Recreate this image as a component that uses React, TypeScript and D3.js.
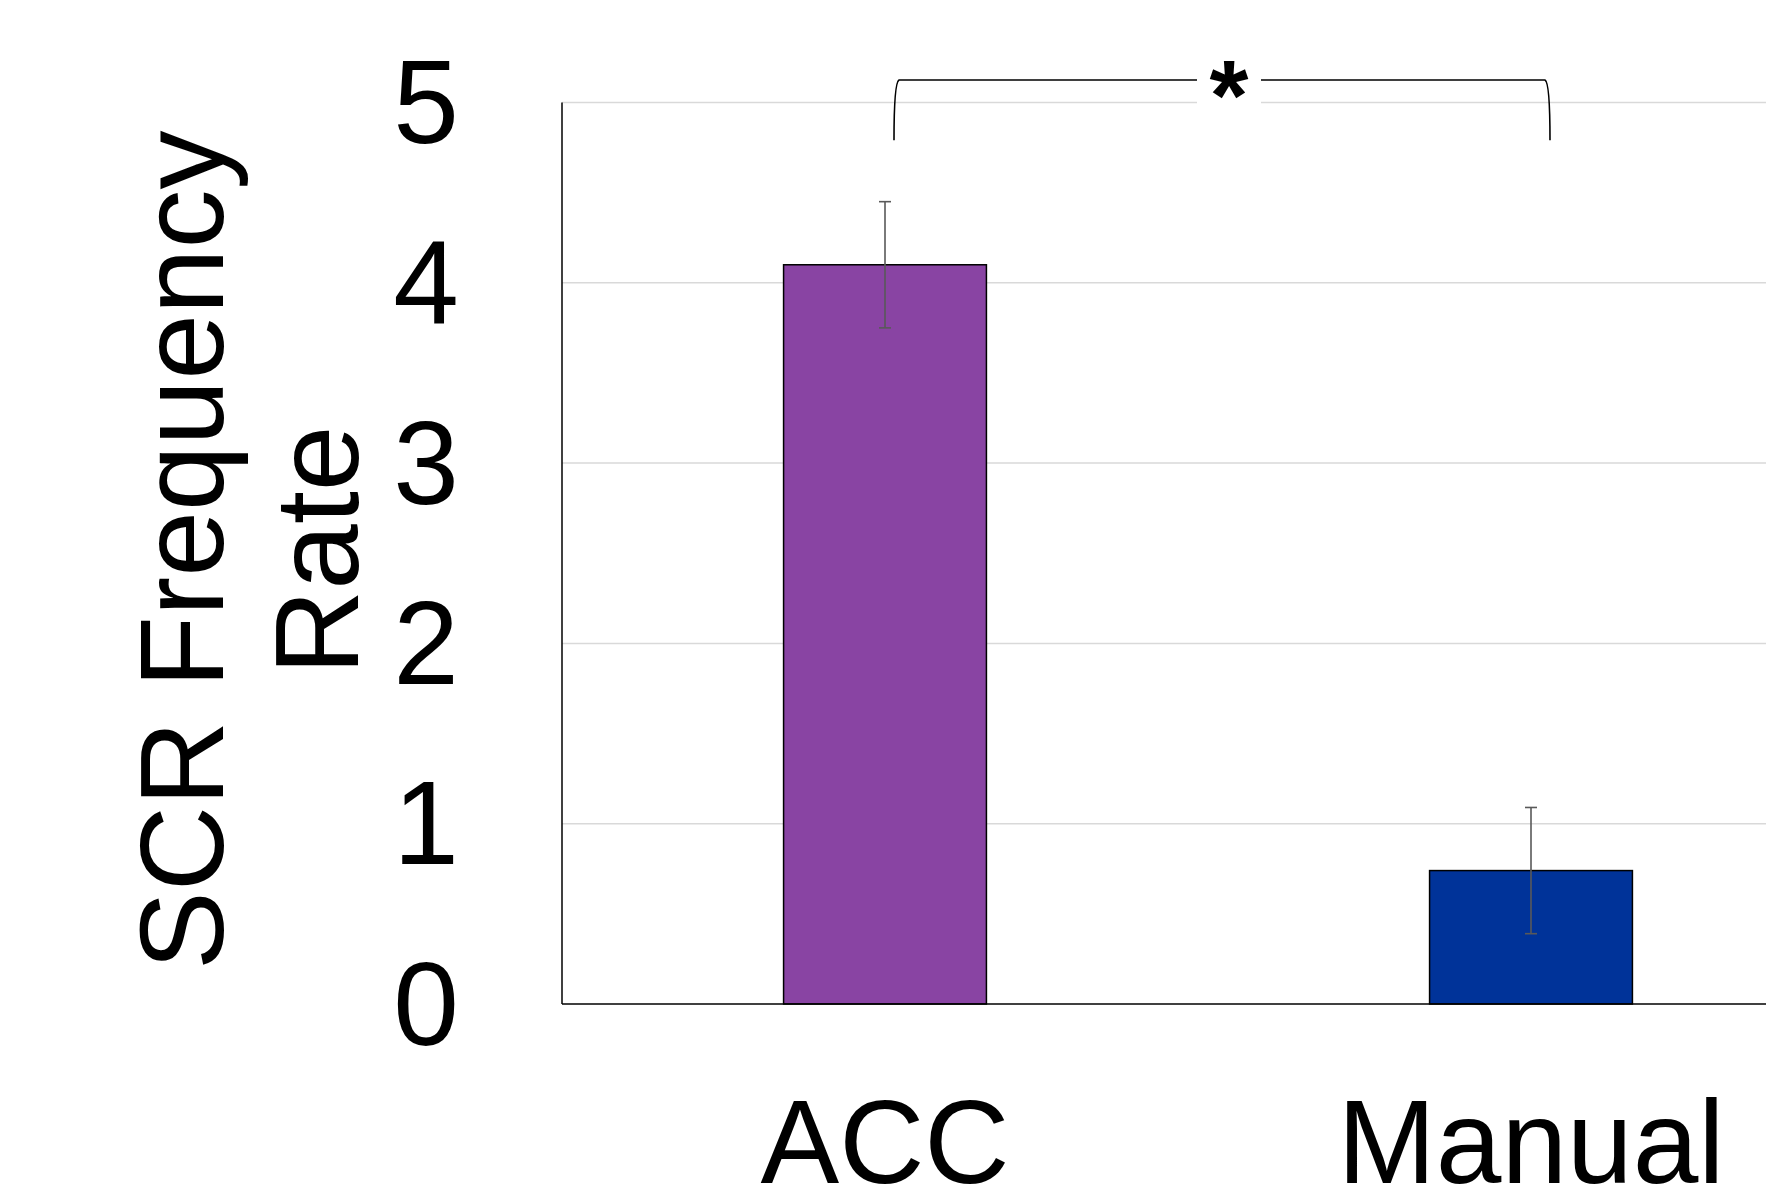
import * as d3 from 'd3';
import { useEffect, useRef } from 'react';

// chart values
const categories = ['ACC', 'Manual'];
const means = [4.1, 0.74];
const errors = [0.35, 0.35];
const barColors = ['#8944A3', '#003399'];
const yTicks = [0, 1, 2, 3, 4, 5];
const yTitleLines = ['SCR Frequency', 'Rate'];
// significance bracket, in data units
const bracketTop = 5.125;
const bracketBottom = 4.79;
const bracketLabel = '*';

export default function App() {
  const svgRef = useRef<SVGSVGElement>(null);

  useEffect(() => {
    d3.select(svgRef.current).selectAll('*').remove();

    const width = 1766;
    const height = 1186;
    const marginLeft = 562;
    const marginTop = 102.5;
    const plotBottom = 1004;
    const fontSize = 118;
    const font = '"Liberation Sans", Arial, sans-serif';

    const x = d3.scaleBand(categories, [marginLeft, marginLeft + 2 * 646])
      .paddingInner(0.686)
      .paddingOuter(0.343);
    const y = d3.scaleLinear([0, 5], [plotBottom, marginTop]);

    const svg = d3.select(svgRef.current)
      .attr('viewBox', [0, 0, width, height])
      .attr('width', width)
      .attr('height', height)
      .style('font-family', font);

    svg.append('rect').attr('width', width).attr('height', height).attr('fill', '#fff');

    // grid lines
    svg.append('g')
      .selectAll('line')
      .data(yTicks.filter(d => d > 0))
      .join('line')
      .attr('x1', marginLeft)
      .attr('x2', width)
      .attr('y1', d => y(d))
      .attr('y2', d => y(d))
      .attr('stroke', '#d9d9d9')
      .attr('stroke-width', 1.5);

    // tick labels
    svg.append('g')
      .selectAll('text')
      .data(yTicks)
      .join('text')
      .attr('x', 459)
      .attr('y', d => y(d))
      .attr('dy', '0.345em')
      .attr('text-anchor', 'end')
      .attr('font-size', fontSize)
      .attr('fill', '#000')
      .text(d => d);

    // y title
    const titleCy = (marginTop + plotBottom) / 2;
    svg.append('g')
      .selectAll('text')
      .data(yTitleLines)
      .join('text')
      .attr('transform', (_, i) => `translate(${223 + i * 135},${titleCy - 3}) rotate(-90)`)
      .attr('text-anchor', 'middle')
      .attr('font-size', fontSize)
      .attr('fill', '#000')
      .text(d => d);

    // bars
    svg.append('g')
      .selectAll('rect')
      .data(categories)
      .join('rect')
      .attr('x', d => x(d)!)
      .attr('width', x.bandwidth())
      .attr('y', (_, i) => y(means[i]))
      .attr('height', (_, i) => y(0) - y(means[i]))
      .attr('fill', (_, i) => barColors[i])
      .attr('stroke', '#000')
      .attr('stroke-width', 1.5);

    // error bars
    const eb = svg.append('g')
      .attr('stroke', '#595959')
      .attr('stroke-width', 1.6)
      .selectAll('g')
      .data(categories)
      .join('g')
      .attr('transform', d => `translate(${x(d)! + x.bandwidth() / 2},0)`);
    eb.append('line')
      .attr('y1', (_, i) => y(means[i] + errors[i]))
      .attr('y2', (_, i) => y(means[i] - errors[i]));
    eb.append('line')
      .attr('x1', -6).attr('x2', 6)
      .attr('y1', (_, i) => y(means[i] + errors[i]))
      .attr('y2', (_, i) => y(means[i] + errors[i]));
    eb.append('line')
      .attr('x1', -6).attr('x2', 6)
      .attr('y1', (_, i) => y(means[i] - errors[i]))
      .attr('y2', (_, i) => y(means[i] - errors[i]));

    // axes
    svg.append('line')
      .attr('x1', marginLeft).attr('x2', marginLeft)
      .attr('y1', y(5)).attr('y2', y(0))
      .attr('stroke', '#000').attr('stroke-width', 1.5);
    svg.append('line')
      .attr('x1', marginLeft).attr('x2', width)
      .attr('y1', y(0)).attr('y2', y(0))
      .attr('stroke', '#000').attr('stroke-width', 1.5);

    // x labels
    svg.append('g')
      .selectAll('text')
      .data(categories)
      .join('text')
      .attr('x', d => x(d)! + x.bandwidth() / 2)
      .attr('y', 1183)
      .attr('text-anchor', 'middle')
      .attr('font-size', fontSize)
      .attr('fill', '#000')
      .text(d => d);

    // significance bracket
    const bx1 = x(categories[0])! + x.bandwidth() / 2 + 9;
    const bx2 = x(categories[1])! + x.bandwidth() / 2 + 19;
    const yt = y(bracketTop);
    const yb = y(bracketBottom);
    const mid = (bx1 + bx2) / 2 + 7;
    const gap = 32;
    svg.append('rect')
      .attr('x', mid - gap).attr('width', gap * 2)
      .attr('y', yt - 30).attr('height', 60)
      .attr('fill', '#fff');
    svg.append('path')
      .attr('fill', 'none')
      .attr('stroke', '#000')
      .attr('stroke-width', 1.6)
      .attr('d', `M${bx1},${yb}C${bx1},${yt + 30} ${bx1 + 1},${yt + 2} ${bx1 + 5},${yt}H${mid - gap}`
        + `M${mid + gap},${yt}H${bx2 - 5}C${bx2 - 1},${yt + 2} ${bx2},${yt + 30} ${bx2},${yb}`);
    svg.append('text')
      .attr('x', mid)
      .attr('y', yt + 50)
      .attr('text-anchor', 'middle')
      .attr('font-size', 100)
      .attr('font-weight', 'bold')
      .attr('fill', '#000')
      .text(bracketLabel);
  }, []);

  return <svg ref={svgRef} style={{ position: 'absolute', left: 0, top: 0, display: 'block' }} />;
}
